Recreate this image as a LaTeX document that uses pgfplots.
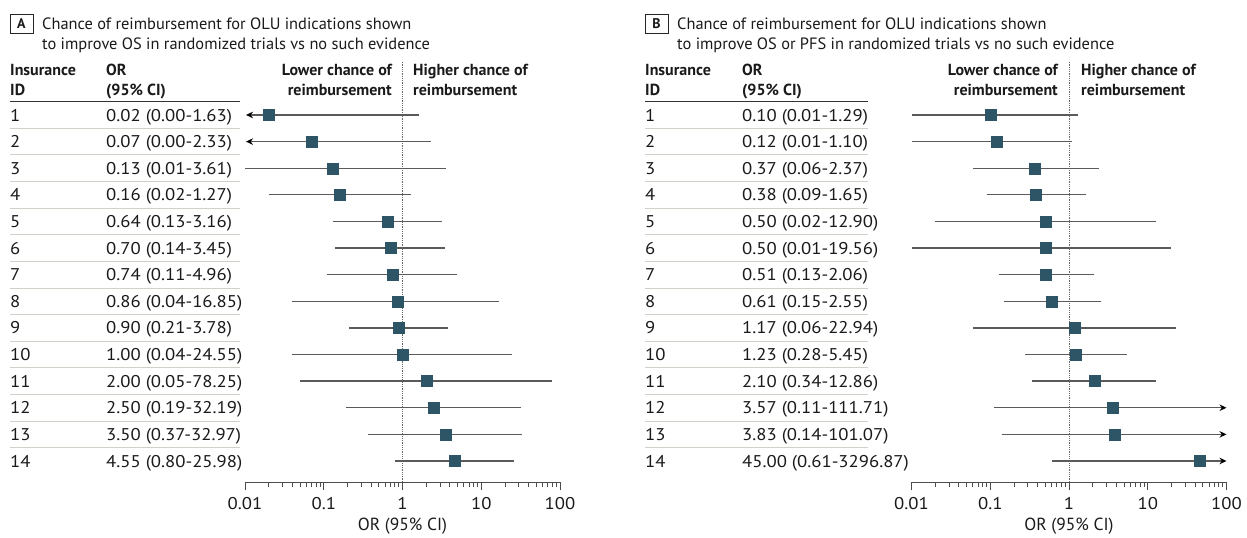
\documentclass[border=0pt]{standalone}
\usepackage{pgfplots}
\pgfplotsset{compat=1.18}
\usepackage{pgfplotstable}
\usepackage{fontspec}
\setmainfont{PT Sans}
\newfontfamily\numfont{PT Sans}[FakeStretch=1.1]
\usetikzlibrary{arrows.meta}
\definecolor{sq}{HTML}{2D5565}
\definecolor{ci}{HTML}{5A5A5A}
\definecolor{sep}{HTML}{D2D0C8}
\definecolor{txt}{HTML}{1A1A1A}

\pgfplotstableread{
id or
1 0.02
2 0.07
3 0.13
4 0.16
5 0.64
6 0.70
7 0.74
8 0.86
9 0.90
10 1.00
11 2.00
12 2.50
13 3.50
14 4.55
}\tabA
\pgfplotstableread{
id or
1 0.10
2 0.12
3 0.37
4 0.38
5 0.50
6 0.50
7 0.51
8 0.61
9 1.17
10 1.23
11 2.10
12 3.57
13 3.83
14 45.00
}\tabB

\tikzset{ciline/.style={color=ci, line width=1.3pt}}

\begin{document}
\begin{tikzpicture}
\path (0pt,0pt) rectangle (1247pt,-533pt);

% ================= Panel A =================
\begin{axis}[at={(245pt,-482pt)}, anchor=south west, width=315pt,
    scale only axis, height=420pt,
    xmode=log, xmin=0.01, xmax=100,
    ymin=-14.79, ymax=0.99,
    axis x line*=bottom, axis y line=none,
    xtick={0.01,0.1,1,10,100},
    xticklabels={0.01,0.1,1,10,100},
    minor xtick={0.02,0.03,0.04,0.05,0.06,0.07,0.08,0.09,0.2,0.3,0.4,0.5,0.6,0.7,0.8,0.9,2,3,4,5,6,7,8,9,20,30,40,50,60,70,80,90},
    tick align=outside,
    major tick length=8pt, minor tick length=5pt,
    tick style={color=black!70, line width=0.9pt},
    axis line style={color=black!70, line width=0.9pt},
    xticklabel style={font=\numfont\fontsize{17}{19}\selectfont, text=txt, yshift=-4pt},
    xlabel={OR (95\% CI)},
    xlabel style={font=\fontsize{17.5}{19}\selectfont, text=txt, yshift=-1pt},
    clip=false]
  \draw[densely dotted, color=black!60, line width=0.8pt] (axis cs:1,-14.79) -- (axis cs:1,0.99);
  \addplot[ciline, {Stealth[length=7pt,width=6.5pt,black]}-] coordinates {(0.0103,-1) (1.63,-1)};
  \addplot[ciline, {Stealth[length=7pt,width=6.5pt,black]}-] coordinates {(0.0103,-2) (2.33,-2)};
  \addplot[ciline] coordinates {(0.01,-3) (3.61,-3)};
  \addplot[ciline] coordinates {(0.02,-4) (1.27,-4)};
  \addplot[ciline] coordinates {(0.13,-5) (3.16,-5)};
  \addplot[ciline] coordinates {(0.14,-6) (3.45,-6)};
  \addplot[ciline] coordinates {(0.11,-7) (4.96,-7)};
  \addplot[ciline] coordinates {(0.04,-8) (16.85,-8)};
  \addplot[ciline] coordinates {(0.21,-9) (3.78,-9)};
  \addplot[ciline] coordinates {(0.04,-10) (24.55,-10)};
  \addplot[ciline] coordinates {(0.05,-11) (78.25,-11)};
  \addplot[ciline] coordinates {(0.19,-12) (32.19,-12)};
  \addplot[ciline] coordinates {(0.37,-13) (32.97,-13)};
  \addplot[ciline] coordinates {(0.80,-14) (25.98,-14)};
  \addplot[only marks, mark=square*, mark size=5.5pt, mark options={fill=sq, draw=sq}] table[x=or, y expr=-\thisrow{id}] {\tabA};
\end{axis}

% ================= Panel B =================
\begin{axis}[at={(911.5pt,-482pt)}, anchor=south west, width=315pt,
    scale only axis, height=420pt,
    xmode=log, xmin=0.01, xmax=100,
    ymin=-14.79, ymax=0.99,
    axis x line*=bottom, axis y line=none,
    xtick={0.01,0.1,1,10,100},
    xticklabels={0.01,0.1,1,10,100},
    minor xtick={0.02,0.03,0.04,0.05,0.06,0.07,0.08,0.09,0.2,0.3,0.4,0.5,0.6,0.7,0.8,0.9,2,3,4,5,6,7,8,9,20,30,40,50,60,70,80,90},
    tick align=outside,
    major tick length=8pt, minor tick length=5pt,
    tick style={color=black!70, line width=0.9pt},
    axis line style={color=black!70, line width=0.9pt},
    xticklabel style={font=\numfont\fontsize{17}{19}\selectfont, text=txt, yshift=-4pt},
    xlabel={OR (95\% CI)},
    xlabel style={font=\fontsize{17.5}{19}\selectfont, text=txt, yshift=-1pt},
    clip=false]
  \draw[densely dotted, color=black!60, line width=0.8pt] (axis cs:1,-14.79) -- (axis cs:1,0.99);
  \addplot[ciline] coordinates {(0.01,-1) (1.29,-1)};
  \addplot[ciline] coordinates {(0.01,-2) (1.10,-2)};
  \addplot[ciline] coordinates {(0.06,-3) (2.37,-3)};
  \addplot[ciline] coordinates {(0.09,-4) (1.65,-4)};
  \addplot[ciline] coordinates {(0.02,-5) (12.90,-5)};
  \addplot[ciline] coordinates {(0.01,-6) (19.56,-6)};
  \addplot[ciline] coordinates {(0.13,-7) (2.06,-7)};
  \addplot[ciline] coordinates {(0.15,-8) (2.55,-8)};
  \addplot[ciline] coordinates {(0.06,-9) (22.94,-9)};
  \addplot[ciline] coordinates {(0.28,-10) (5.45,-10)};
  \addplot[ciline] coordinates {(0.34,-11) (12.86,-11)};
  \addplot[ciline, -{Stealth[length=7pt,width=6.5pt,black]}] coordinates {(0.11,-12) (100,-12)};
  \addplot[ciline, -{Stealth[length=7pt,width=6.5pt,black]}] coordinates {(0.14,-13) (100,-13)};
  \addplot[ciline, -{Stealth[length=7pt,width=6.5pt,black]}] coordinates {(0.61,-14) (100,-14)};
  \addplot[only marks, mark=square*, mark size=5.5pt, mark options={fill=sq, draw=sq}] table[x=or, y expr=-\thisrow{id}] {\tabB};
\end{axis}

% ================= Text =================
\tikzset{
  tt/.style={inner sep=0pt, text=txt, font=\fontsize{16.4}{19}\selectfont},
  nn/.style={inner sep=0pt, text=txt, font=\numfont\fontsize{17}{19}\selectfont},
  hh/.style={inner sep=0pt, text=txt, font=\fontsize{16}{19}\selectfont\bfseries},
}
\foreach \ox/\oc/\L/\Lone/\Ltwo/\sepend in {10/106/A/Chance of reimbursement for OLU indications shown/to improve OS in randomized trials vs no such evidence/240,
                               645/742/B/Chance of reimbursement for OLU indications shown/to improve OS or PFS in randomized trials vs no such evidence/868}{
  \node[draw=black!85, line width=0.9pt, minimum width=23pt, minimum height=19pt, inner sep=0pt, anchor=north west,
        font=\fontsize{14}{16}\selectfont\bfseries, text=txt] at ({(\ox-0.5)*1pt},-13.5pt) {\L};
  \node[tt, anchor=base west] at ({(\ox+32)*1pt},-29pt) {\Lone};
  \node[tt, anchor=base west] at ({(\ox+32)*1pt},-49pt) {\Ltwo};
  \node[hh, anchor=base west] at (\ox pt,-75pt) {Insurance};
  \node[hh, anchor=base west] at (\ox pt,-95pt) {ID};
  \node[hh, anchor=base west] at (\oc pt,-75pt) {OR};
  \node[hh, anchor=base west] at (\oc pt,-95pt) {(95\% CI)};
  \draw[color=black!80, line width=1.3pt] (\ox pt,-101.5pt) -- (\sepend pt,-101.5pt);
  \foreach \k in {1,...,13}{
    \draw[color=sep, line width=1pt] (\ox pt,{-(115+(\k-0.5)*26.615)*1pt}) -- (\sepend pt,{-(115+(\k-0.5)*26.615)*1pt});
  }
  \foreach \k in {1,...,14}{
    \node[nn, anchor=base west] at (\ox pt,{-(121+(\k-1)*26.615)*1pt}) {\k};
  }
}
% headers over plot
\node[hh, anchor=base east] at (392pt,-75pt) {Lower chance of};
\node[hh, anchor=base east] at (392pt,-95pt) {reimbursement};
\node[hh, anchor=base west] at (413pt,-75pt) {Higher chance of};
\node[hh, anchor=base west] at (413pt,-95pt) {reimbursement};
\node[hh, anchor=base east] at (1058pt,-75pt) {Lower chance of};
\node[hh, anchor=base east] at (1058pt,-95pt) {reimbursement};
\node[hh, anchor=base west] at (1081pt,-75pt) {Higher chance of};
\node[hh, anchor=base west] at (1081pt,-95pt) {reimbursement};

% OR (95% CI) values
\foreach \k/\t in {1/{0.02 (0.00-1.63)},2/{0.07 (0.00-2.33)},3/{0.13 (0.01-3.61)},4/{0.16 (0.02-1.27)},
  5/{0.64 (0.13-3.16)},6/{0.70 (0.14-3.45)},7/{0.74 (0.11-4.96)},8/{0.86 (0.04-16.85)},
  9/{0.90 (0.21-3.78)},10/{1.00 (0.04-24.55)},11/{2.00 (0.05-78.25)},12/{2.50 (0.19-32.19)},
  13/{3.50 (0.37-32.97)},14/{4.55 (0.80-25.98)}}{
  \node[nn, anchor=base west] at (106pt,{-(121+(\k-1)*26.615)*1pt}) {\t};
}
\foreach \k/\t in {1/{0.10 (0.01-1.29)},2/{0.12 (0.01-1.10)},3/{0.37 (0.06-2.37)},4/{0.38 (0.09-1.65)},
  5/{0.50 (0.02-12.90)},6/{0.50 (0.01-19.56)},7/{0.51 (0.13-2.06)},8/{0.61 (0.15-2.55)},
  9/{1.17 (0.06-22.94)},10/{1.23 (0.28-5.45)},11/{2.10 (0.34-12.86)},12/{3.57 (0.11-111.71)},
  13/{3.83 (0.14-101.07)},14/{45.00 (0.61-3296.87)}}{
  \node[nn, anchor=base west] at (742pt,{-(121+(\k-1)*26.615)*1pt}) {\t};
}
\end{tikzpicture}
\end{document}
